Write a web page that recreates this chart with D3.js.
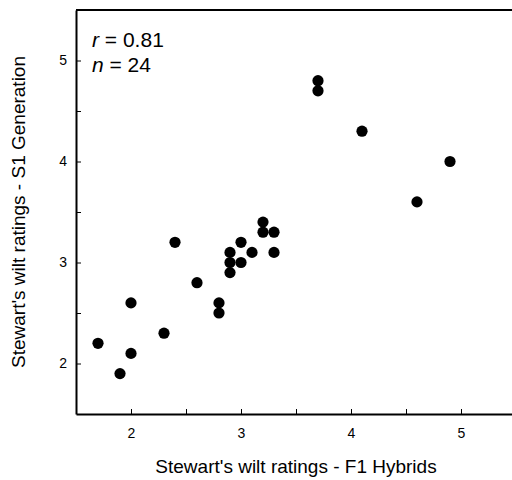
<!DOCTYPE html>
<html>
<head>
<meta charset="utf-8">
<script src="https://cdn.jsdelivr.net/npm/d3@7"></script>
<style>
  body { margin: 0; background: #fff; }
  svg { display: block; font-family: "Liberation Sans", Arial, sans-serif; }
</style>
</head>
<body>
<div id="chart"></div>
<script>
// F1 hybrid ratings vs S1 generation ratings
const f1Ratings = [1.7, 1.9, 2.0, 2.0, 2.3, 2.4, 2.6, 2.8, 2.8, 2.9, 2.9, 2.9,
                   3.0, 3.0, 3.1, 3.2, 3.2, 3.3, 3.3, 3.7, 3.7, 4.1, 4.6, 4.9];
const s1Ratings = [2.2, 1.9, 2.6, 2.1, 2.3, 3.2, 2.8, 2.6, 2.5, 3.1, 3.0, 2.9,
                   3.2, 3.0, 3.1, 3.3, 3.4, 3.3, 3.1, 4.8, 4.7, 4.3, 3.6, 4.0];
const xTicks = [2, 2.5, 3, 3.5, 4, 4.5, 5];
const yTicks = [2, 2.5, 3, 3.5, 4, 4.5, 5];
const stats = [{ sym: "r", val: "0.81" }, { sym: "n", val: "24" }];

const width = 512, height = 480;
const margin = { top: 10, right: -4, bottom: 66, left: 76 };

const svg = d3.select("#chart")
    .append("svg")
    .attr("width", width)
    .attr("height", height);

const x = d3.scaleLinear()
    .domain([1.5, 5.5])
    .range([margin.left, width - margin.right]);

const y = d3.scaleLinear()
    .domain([1.5, 5.5])
    .range([height - margin.bottom, margin.top]);

const fmt = d => Number.isInteger(d) ? d : "";

// top / right frame
svg.append("path")
    .attr("d", `M${x(1.5)},${y(5.5)}H${x(5.5)}V${y(1.5)}`)
    .attr("fill", "none")
    .attr("stroke", "#000")
    .attr("stroke-width", 2);

// x axis
const gx = svg.append("g")
    .attr("transform", `translate(0,${y(1.5)})`)
    .call(d3.axisBottom(x).tickValues(xTicks).tickFormat(fmt)
        .tickSizeInner(-5).tickSizeOuter(0).tickPadding(14));

// y axis
const gy = svg.append("g")
    .attr("transform", `translate(${x(1.5)},0)`)
    .call(d3.axisLeft(y).tickValues(yTicks).tickFormat(fmt)
        .tickSizeInner(-5).tickSizeOuter(0).tickPadding(9));

[gx, gy].forEach(g => {
    g.select(".domain").attr("stroke", "#000").attr("stroke-width", 2);
    g.selectAll(".tick line").attr("stroke", "#000").attr("stroke-width", 1);
    g.selectAll("text").attr("font-size", 14).attr("fill", "#000")
        .attr("font-family", "Liberation Sans, Arial, sans-serif");
});

// points
svg.append("g")
    .selectAll("circle")
    .data(f1Ratings.map((d, i) => [d, s1Ratings[i]]))
    .enter().append("circle")
    .attr("cx", d => x(d[0]))
    .attr("cy", d => y(d[1]))
    .attr("r", 5.6)
    .attr("fill", "#000");

// axis titles
svg.append("text")
    .attr("x", (x(1.5) + x(5.5)) / 2)
    .attr("y", 473)
    .attr("text-anchor", "middle")
    .attr("font-size", 19)
    .attr("fill", "#000")
    .text("Stewart's wilt ratings - F1 Hybrids");

svg.append("text")
    .attr("transform", `translate(25,${(y(1.5) + y(5.5)) / 2}) rotate(-90)`)
    .attr("text-anchor", "middle")
    .attr("font-size", 19)
    .attr("fill", "#000")
    .text("Stewart's wilt ratings - S1 Generation");

// r and n annotation
const note = svg.append("g")
    .selectAll("text")
    .data(stats)
    .enter().append("text")
    .attr("x", 92)
    .attr("y", (d, i) => 47 + i * 24.5)
    .attr("font-size", 21)
    .attr("fill", "#000");

note.append("tspan").attr("font-style", "italic").text(d => d.sym);
note.append("tspan").text(d => " = " + d.val);
</script>
</body>
</html>
